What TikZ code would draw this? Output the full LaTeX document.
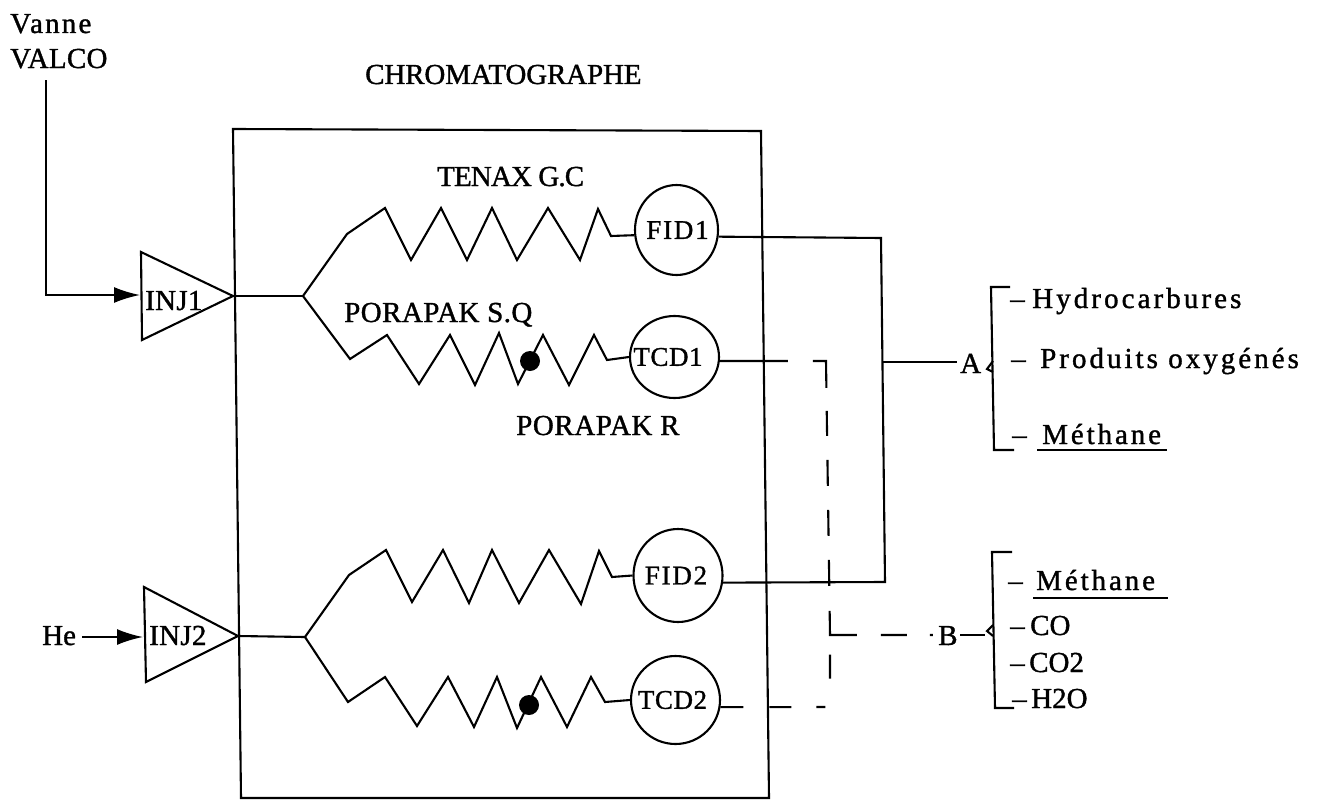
\documentclass[tikz,border=0pt]{standalone}
\usepackage{fontspec}
\setmainfont[FakeBold=1.2]{Liberation Serif}
\usetikzlibrary{shapes.geometric,arrows.meta}
\newcommand{\ls}[2]{{\addfontfeature{LetterSpace=#1}#2}}
\newcommand{\inring}[1]{\makebox[0pt][c]{#1}}
\tikzset{
  wire/.style={line width=2.1pt,line join=miter,draw=black},
  lab/.style={anchor=base west,inner sep=0pt,font=\fontsize{29}{29}\selectfont},
  det/.style={ellipse,draw=black,line width=2.1pt,inner sep=0pt,font=\fontsize{27}{27}\selectfont},
  dot/.style={circle,fill=black,inner sep=0pt,minimum size=20pt},
  flow/.style={wire,-{Latex[length=26pt,width=16pt]}}
}
\begin{document}
\begin{tikzpicture}[x=1pt,y=-1pt]
\useasboundingbox (0,0) rectangle (1322,800);
% oven
\draw[wire] (233,129) -- (761,131) -- (769,798) -- (241,798) -- cycle;
% labels
\node[lab] (vanne) at (10,33) {\ls{7.5}{Vanne}};
\node[lab] (valco) at (10,68) {\ls{1}{VALCO}};
\node[lab] (chrom) at (365,84) {\ls{-0.5}{CHROMATOGRAPHE}};
\node[lab] (tenax) at (437,186) {\ls{-3}{TENAX G.C}};
\node[lab] (psq) at (344,322) {\ls{1.5}{PORAPAK S.Q}};
\node[lab] (pr) at (516,435) {\ls{2}{PORAPAK R}};
\node[lab] (inj1) at (145,310) {\ls{1}{INJ1}};
\node[lab] (inj2) at (149,645) {\ls{1}{INJ2}};
\node[lab] (he) at (42,645) {He};
% injectors
\coordinate (t1a) at (141,252); \coordinate (t1b) at (142,340); \coordinate (t1c) at (233,296);
\coordinate (t2a) at (144,587); \coordinate (t2b) at (146,682); \coordinate (t2c) at (238,636);
\draw[wire] (t1a) -- (t1b) -- (t1c) -- cycle;
\draw[wire] (t2a) -- (t2b) -- (t2c) -- cycle;
% detectors
\node[det,minimum width=83pt,minimum height=90pt] (FID1) at (676.5,230) {\inring{\ls{6.5}{FID1}\hspace*{-2pt}}};
\node[det,minimum width=89pt,minimum height=82pt] (TCD1) at (674.5,357) {\inring{\ls{2}{TCD1}\hspace*{13pt}}};
\node[det,minimum width=89pt,minimum height=93pt] (FID2) at (678,575.5) {\inring{\ls{6.5}{FID2}\hspace*{4pt}}};
\node[det,minimum width=89pt,minimum height=88pt] (TCD2) at (675.5,700) {\inring{\ls{2}{TCD2}\hspace*{6pt}}};
% junctions
\coordinate (j1) at (303,296); \coordinate (j2) at (305,637);
\draw[wire] (t1c) -- (j1);
\draw[wire] (t2c) -- (j2);
% columns
\draw[wire] (j1) -- (347,234) -- (385,208) -- (411,260) -- (441,208) -- (467,260) -- (492,208) -- (517,260) -- (548,208) -- (580,260) -- (598,209) -- (611,236) -- (FID1.187);
\draw[wire] (j1) -- (350,359) -- (387,335) -- (419,384) -- (450,335) -- (475,385) -- (499,333) -- (518,384) -- (543,335) -- (569,385) -- (594,335) -- (607,360) -- (TCD1.west);
\draw[wire] (j2) -- (349,575) -- (386,550) -- (412,602) -- (443,550) -- (469,603) -- (492,550) -- (519,603) -- (549,550) -- (581,604) -- (599,551) -- (612,577) -- (FID2.west);
\draw[wire] (j2) -- (348,702) -- (385,677) -- (417,726) -- (448,677) -- (474,727) -- (497,677) -- (517,728) -- (541,677) -- (567,727) -- (591,677) -- (605,702) -- (TCD2.west);
\node[dot] (v1) at (530,361) {};
\node[dot] (v2) at (529,705) {};
% inlets
\coordinate (vstart) at (46,80);
\coordinate (vbend) at (46,295);
\coordinate (in1) at (140,295);
\coordinate (hestart) at (82,637);
\coordinate (in2) at (143,637);
\draw[flow] (vstart) -- (vbend) -- (in1);
\draw[flow] (hestart) -- (in2);
% outputs
\node[lab] (A) at (960,373) {A};
\node[lab] (B) at (938,645) {B};
\coordinate (c1) at (881,238);
\coordinate (c2) at (885,582);
\coordinate (ja) at (883,362);
\draw[wire] (FID1.-9) -- (c1) -- (c2) -- (FID2.-9);
\draw[wire] (ja) -- (957,362);
\coordinate (c3) at (826,361);
\coordinate (c4) at (830,635);
\coordinate (c5) at (830,707);
\coordinate (bin) at (937,635);
\draw[wire,dash pattern=on 68pt off 25pt on 40pt off 23pt on 25pt off 24pt on 26pt off 24pt on 26pt off 24pt on 26pt off 25pt on 51pt off 24pt on 26pt off 23pt on 3pt off 20pt] (TCD1.-5) -- (c3) -- (c4) -- (bin);
\draw[wire,dash pattern=on 23pt off 26pt on 22pt off 25pt on 9pt off 33pt on 24pt off 40pt] (TCD2.-9) -- (c5) -- (c4);
\coordinate (bout) at (985,635);
\coordinate (bstub) at (960,635);
\draw[wire] (bstub) -- (bout);
% brackets
\draw[wire] (1010,287) -- (991,287) -- (994,450) -- (1014,450);
\draw[wire] (993,361) -- (987,369) -- (993,372);
\draw[wire] (1012,552) -- (992,552) -- (995,708) -- (1014,708);
\draw[wire] (993,625) -- (987,631) -- (993,636);
% species
\node[lab] (hc) at (1010,308) {\makebox[22pt][l]{–}\ls{10.6}{Hydrocarbures}};
\node[lab] (po) at (1011,368) {\makebox[29pt][l]{–}\ls{10.4}{Produits oxygénés}};
\node[lab] (m1) at (1012,444) {\makebox[30pt][l]{–}\ls{10}{Méthane}};
\node[lab] (m2) at (1008,590) {\makebox[28pt][l]{–}\ls{10}{Méthane}};
\node[lab] (co) at (1010,635) {\makebox[20pt][l]{–}CO};
\node[lab] (co2) at (1010,672) {\makebox[19pt][l]{–}CO2};
\node[lab] (h2o) at (1012,708) {\makebox[19pt][l]{–}H2O};
\coordinate (u1a) at (1037,450); \coordinate (u1b) at (1167,450);
\coordinate (u2a) at (1033,598); \coordinate (u2b) at (1168,598);
\draw[wire] (u1a) -- (u1b);
\draw[wire] (u2a) -- (u2b);
\end{tikzpicture}
\end{document}
